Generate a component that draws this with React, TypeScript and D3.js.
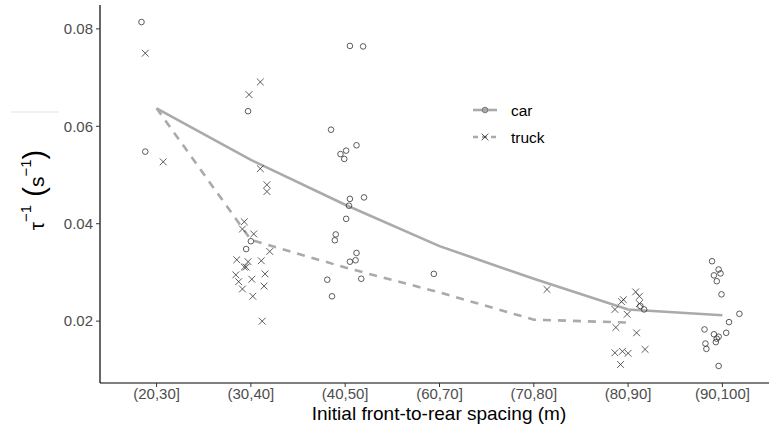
import * as d3 from 'd3';

// spacing classes on the x axis
const categories = ['(20,30]', '(30,40]', '(40,50]', '(60,70]', '(70,80]', '(80,90]', '(90,100]'];
const yTicks = [0.02, 0.04, 0.06, 0.08];

// fitted lines (one value per class)
const carLine = [0.0637, 0.0531, 0.0439, 0.0354, 0.0287, 0.0224, 0.0212];
const truckLine = [0.0637, 0.0367, 0.031, 0.0259, 0.0203, 0.0197];

// observations: [class, jitter (in class widths), value]
const carPoints: [string, number, number][] = [
    ['(20,30]', -0.16, 0.0814], ['(20,30]', -0.12, 0.0548],
    ['(30,40]', -0.03, 0.0631], ['(30,40]', 0, 0.0364], ['(30,40]', -0.05, 0.0348],
    ['(40,50]', 0.05, 0.0765], ['(40,50]', 0.19, 0.0764], ['(40,50]', -0.15, 0.0593],
    ['(40,50]', 0.12, 0.0561], ['(40,50]', 0.01, 0.055], ['(40,50]', -0.05, 0.0543],
    ['(40,50]', -0.01, 0.0533], ['(40,50]', 0.05, 0.0451], ['(40,50]', 0.2, 0.0454],
    ['(40,50]', 0.04, 0.0437], ['(40,50]', 0.01, 0.041], ['(40,50]', -0.1, 0.0378],
    ['(40,50]', -0.11, 0.0366], ['(40,50]', 0.12, 0.034], ['(40,50]', 0.11, 0.0325],
    ['(40,50]', 0.05, 0.0322], ['(40,50]', -0.19, 0.0285], ['(40,50]', 0.17, 0.0287],
    ['(40,50]', -0.14, 0.0251],
    ['(60,70]', -0.06, 0.0297],
    ['(80,90]', 0.13, 0.0231], ['(80,90]', 0.17, 0.0224],
    ['(90,100]', -0.11, 0.0323], ['(90,100]', -0.04, 0.0306], ['(90,100]', -0.02, 0.0298],
    ['(90,100]', -0.09, 0.0294], ['(90,100]', -0.06, 0.0282], ['(90,100]', -0.01, 0.0255],
    ['(90,100]', 0.18, 0.0215], ['(90,100]', 0.07, 0.0198], ['(90,100]', 0.04, 0.0176],
    ['(90,100]', -0.19, 0.0183], ['(90,100]', -0.09, 0.0173], ['(90,100]', -0.04, 0.0168],
    ['(90,100]', -0.06, 0.0164], ['(90,100]', -0.07, 0.0157], ['(90,100]', -0.18, 0.0154],
    ['(90,100]', -0.17, 0.0143], ['(90,100]', -0.04, 0.0108],
];

const truckPoints: [string, number, number][] = [
    ['(20,30]', -0.12, 0.075], ['(20,30]', 0.07, 0.0527],
    ['(30,40]', 0.1, 0.0691], ['(30,40]', -0.02, 0.0665], ['(30,40]', 0.1, 0.0513],
    ['(30,40]', 0.17, 0.048], ['(30,40]', 0.17, 0.0466], ['(30,40]', -0.07, 0.0404],
    ['(30,40]', -0.09, 0.0389], ['(30,40]', 0.03, 0.0379], ['(30,40]', 0.2, 0.0343],
    ['(30,40]', -0.15, 0.0326], ['(30,40]', -0.03, 0.0322], ['(30,40]', 0.11, 0.0324],
    ['(30,40]', -0.07, 0.0311], ['(30,40]', -0.05, 0.0311], ['(30,40]', -0.16, 0.0295],
    ['(30,40]', 0.15, 0.0297], ['(30,40]', 0.01, 0.0286], ['(30,40]', -0.13, 0.0281],
    ['(30,40]', 0.14, 0.0272], ['(30,40]', -0.09, 0.0266], ['(30,40]', 0.02, 0.0251],
    ['(30,40]', 0.12, 0.02],
    ['(70,80]', 0.14, 0.0265],
    ['(80,90]', 0.08, 0.026], ['(80,90]', 0.12, 0.0251], ['(80,90]', -0.05, 0.0244],
    ['(80,90]', -0.07, 0.024], ['(80,90]', 0.12, 0.0236], ['(80,90]', -0.14, 0.0224],
    ['(80,90]', -0.01, 0.0214], ['(80,90]', -0.13, 0.0187], ['(80,90]', 0.09, 0.0176],
    ['(80,90]', -0.14, 0.0135], ['(80,90]', -0.06, 0.0138], ['(80,90]', 0, 0.0134],
    ['(80,90]', 0.18, 0.0142], ['(80,90]', -0.08, 0.0111],
];

const W = 769;
const H = 429;
const font = 'Liberation Sans, Arial, sans-serif';
const lineGrey = '#aaaaaa';

export default function App() {
    const margin = { top: 5, left: 100, bottom: 383 };

    const x = d3.scalePoint<string>()
        .domain(categories)
        .range([margin.left, 779])
        .padding(0.6);
    const step = x.step();

    const y = d3.scaleLinear()
        .domain([0.0073, 0.0849])
        .range([margin.bottom, margin.top]);

    const line = d3.line<number>()
        .x((_, i) => x(categories[i])!)
        .y(d => y(d));

    const px = (p: [string, number, number]) => x(p[0])! + p[1] * step;

    return (
        <svg width={W} height={H} style={{ position: 'absolute', left: 0, top: 0 }} fontFamily={font}>
            <rect width={W} height={H} fill="#fff" />
            <line x1={11} x2={59} y1={112} y2={112} stroke="#e4e4e4" strokeWidth={1} />

            {/* lines */}
            <path d={line(carLine)!} fill="none" stroke={lineGrey} strokeWidth={2.6} />
            <path d={line(truckLine)!} fill="none" stroke={lineGrey} strokeWidth={2.6} strokeDasharray="8,7" />

            {/* points */}
            {carPoints.map((p, i) => (
                <circle key={'c' + i} cx={px(p)} cy={y(p[2])} r={2.8} fill="none" stroke="#333" strokeWidth={0.8} />
            ))}
            {truckPoints.map((p, i) => {
                const cx = px(p), cy = y(p[2]), s = 3.4;
                return (
                    <path key={'t' + i} d={`M${cx - s},${cy - s}L${cx + s},${cy + s}M${cx - s},${cy + s}L${cx + s},${cy - s}`}
                        stroke="#333" strokeWidth={0.8} fill="none" />
                );
            })}

            {/* axes */}
            <line x1={margin.left} x2={margin.left} y1={margin.top} y2={margin.bottom} stroke="#000" strokeWidth={1.2} />
            <line x1={margin.left} x2={W} y1={margin.bottom} y2={margin.bottom} stroke="#000" strokeWidth={1.2} />
            {yTicks.map(t => (
                <g key={t}>
                    <line x1={margin.left - 4} x2={margin.left} y1={y(t)} y2={y(t)} stroke="#333" strokeWidth={1} />
                    <text x={margin.left - 7} y={y(t)} dy="0.35em" textAnchor="end" fontSize={15} fill="#4d4d4d">
                        {t.toFixed(2)}
                    </text>
                </g>
            ))}
            {categories.map(c => (
                <g key={c}>
                    <line x1={x(c)} x2={x(c)} y1={margin.bottom} y2={margin.bottom + 4} stroke="#333" strokeWidth={1} />
                    <text x={x(c)} y={margin.bottom + 16} textAnchor="middle" fontSize={15} fill="#4d4d4d">{c}</text>
                </g>
            ))}

            <text x={439} y={419.5} textAnchor="middle" fontSize={19} fill="#000">
                Initial front-to-rear spacing (m)
            </text>
            <text transform="translate(44,190) rotate(-90)" textAnchor="middle" fontSize={21} fill="#000">
                τ<tspan dy="-13" fontSize={15}>−1</tspan>
                <tspan dy="13" fontSize={29}>{' '}(</tspan>
                <tspan>s</tspan>
                <tspan dy="-13" fontSize={15}>−1</tspan>
                <tspan dy="13" fontSize={29}>)</tspan>
            </text>

            {/* legend */}
            <g>
                <line x1={473} x2={497} y1={110} y2={110} stroke={lineGrey} strokeWidth={2.6} />
                <circle cx={485} cy={110} r={2.8} fill={lineGrey} stroke="#666" strokeWidth={0.8} />
                <text x={511} y={115.5} fontSize={15.5} fill="#000">car</text>
                <line x1={473} x2={497} y1={137} y2={137} stroke={lineGrey} strokeWidth={2.6} strokeDasharray="5,4" />
                <path d="M481.6,133.6L488.4,140.4M481.6,140.4L488.4,133.6" stroke="#333" strokeWidth={0.8} />
                <text x={511} y={142.5} fontSize={15.5} fill="#000">truck</text>
            </g>
        </svg>
    );
}
